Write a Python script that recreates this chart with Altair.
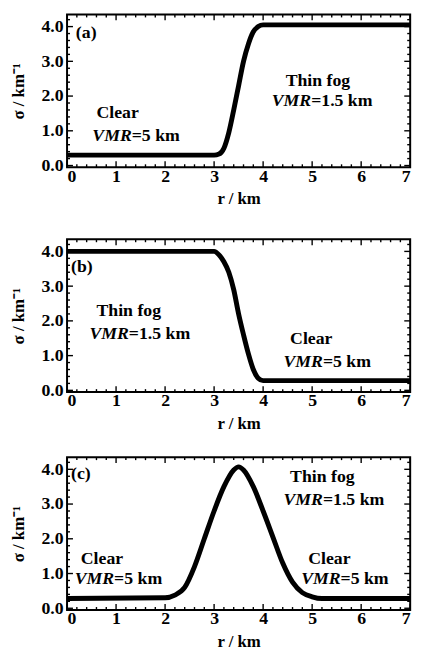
import altair as alt
import pandas as pd

# ---- data ----
r_a = [0, 3.0, 3.1, 3.2, 3.3, 3.4, 3.5, 3.6, 3.7, 3.8, 3.9, 4.0, 7]
s_a = [0.3, 0.3, 0.33, 0.5, 0.95, 1.6, 2.3, 3.0, 3.5, 3.85, 4.0, 4.05, 4.05]

r_b = [0, 3.0, 3.1, 3.2, 3.3, 3.4, 3.5, 3.6, 3.7, 3.8, 3.9, 4.0, 7]
s_b = [4.0, 4.0, 3.9, 3.7, 3.4, 2.9, 2.2, 1.6, 1.05, 0.6, 0.35, 0.28, 0.28]

r_c = [0, 2.0, 2.2, 2.4, 2.6, 2.8, 3.0, 3.2, 3.4, 3.5, 3.6, 3.8, 4.0, 4.2, 4.4, 4.6, 4.8, 5.0, 5.2, 7]
s_c = [0.28, 0.3, 0.38, 0.6, 1.2, 2.0, 2.8, 3.5, 3.98, 4.07, 3.98, 3.5, 2.8, 2.05, 1.3, 0.75, 0.45, 0.33, 0.28, 0.28]

x_ticks = [0, 1, 2, 3, 4, 5, 6, 7]
y_ticks = [0, 1, 2, 3, 4]
x_minor = [round(i * 0.2, 1) for i in range(36) if i % 5 != 0]
y_minor = [round(i * 0.2, 1) for i in range(22) if i % 5 != 0]

# annotations: (panel label), plain lines, and "VMR=..." lines split in italic + plain
labels = {"a": ("(a)", 0.18, 3.8), "b": ("(b)", 0.08, 3.55), "c": ("(c)", 0.08, 3.86)}
plain_a = [("Clear", 0.6, 1.5), ("Thin fog", 4.46, 2.44)]
vmr_a = [(1.32, 0.85, "=5 km"), (4.98, 1.85, "=1.5 km")]
plain_b = [("Thin fog", 0.6, 2.27), ("Clear", 4.55, 1.48)]
vmr_b = [(1.26, 1.62, "=1.5 km"), (5.22, 0.8, "=5 km")]
plain_c = [("Thin fog", 4.55, 3.77), ("Clear", 0.28, 1.43), ("Clear", 4.92, 1.43)]
vmr_c = [(5.22, 3.11, "=1.5 km"), (0.96, 0.83, "=5 km"), (5.58, 0.83, "=5 km")]

W, H = 348, 155
FONT = "Liberation Serif"
FS = 18

xscale = alt.Scale(domain=[0, 7], nice=False, zero=False)
yscale = alt.Scale(domain=[-0.05, 4.35], nice=False, zero=False)
xaxis = alt.Axis(values=x_ticks, format="d", title="r / km", ticks=False, tickSize=0, domain=False,
                 grid=False, labelPadding=0, titlePadding=6,
                 labelFont=FONT, labelFontSize=FS, labelFontWeight="bold", labelColor="black",
                 titleFont=FONT, titleFontSize=17, titleFontWeight="bold", titleColor="black")
yaxis = alt.Axis(values=y_ticks, format=".1f", title="σ / km⁻¹", ticks=False, tickSize=0, domain=False,
                 grid=False, labelPadding=4, titlePadding=14,
                 labelFont=FONT, labelFontSize=FS, labelFontWeight="bold", labelColor="black",
                 titleFont=FONT, titleFontSize=17, titleFontWeight="bold", titleColor="black")


def X(f):
    return alt.X(f, scale=xscale, axis=xaxis)


def Y(f):
    return alt.Y(f, scale=yscale, axis=yaxis)


def tick_layer(vals, ch, length):
    df = pd.DataFrame({"v": vals})
    base = alt.Chart(df).mark_rule(color="black", strokeWidth=1.4)
    if ch == "x":
        enc_b = dict(x=X("v:Q"), y=alt.value(H), y2=alt.value(H - length))
        enc_t = dict(x=X("v:Q"), y=alt.value(0), y2=alt.value(length))
    else:
        enc_b = dict(y=Y("v:Q"), x=alt.value(0), x2=alt.value(length))
        enc_t = dict(y=Y("v:Q"), x=alt.value(W), x2=alt.value(W - length))
    return [base.encode(**enc_b), base.encode(**enc_t)]


def panel(r, s, lab, plain, vmr):
    df = pd.DataFrame({"r": r, "s": s})
    line = alt.Chart(df).mark_line(color="black", strokeWidth=5, interpolate="monotone").encode(
        x=X("r:Q"), y=Y("s:Q"))
    layers = [line]
    layers += tick_layer(x_ticks, "x", 6) + tick_layer(x_minor, "x", 3)
    layers += tick_layer(y_ticks, "y", 6) + tick_layer(y_minor, "y", 3)

    txt_kw = dict(font=FONT, fontSize=FS, fontWeight="bold", color="black", baseline="middle")
    lab_df = pd.DataFrame({"t": [lab[0]], "x": [lab[1]], "y": [lab[2]]})
    layers.append(alt.Chart(lab_df).mark_text(align="left", **txt_kw).encode(
        x=X("x:Q"), y=Y("y:Q"), text="t:N"))
    p_df = pd.DataFrame({"t": [p[0] for p in plain], "x": [p[1] for p in plain], "y": [p[2] for p in plain]})
    layers.append(alt.Chart(p_df).mark_text(align="left", **txt_kw).encode(
        x=X("x:Q"), y=Y("y:Q"), text="t:N"))
    v_df = pd.DataFrame({"x": [v[0] for v in vmr], "y": [v[1] for v in vmr],
                         "t": [v[2] for v in vmr], "i": ["VMR"] * len(vmr)})
    layers.append(alt.Chart(v_df).mark_text(align="right", fontStyle="italic", **txt_kw).encode(
        x=X("x:Q"), y=Y("y:Q"), text="i:N"))
    layers.append(alt.Chart(v_df).mark_text(align="left", **txt_kw).encode(
        x=X("x:Q"), y=Y("y:Q"), text="t:N"))
    return alt.layer(*layers).properties(width=W, height=H)


top_two = alt.vconcat(
    panel(r_a, s_a, labels["a"], plain_a, vmr_a),
    panel(r_b, s_b, labels["b"], plain_b, vmr_b),
    spacing=30,
)
chart = alt.vconcat(
    top_two,
    panel(r_c, s_c, labels["c"], plain_c, vmr_c),
    spacing=23,
).properties(
    padding={"left": 8, "top": 8, "right": 2, "bottom": 0},
    background="white",
).configure(
    font=FONT
).configure_view(
    stroke="black", strokeWidth=2
)

chart.save("out.html", embed_options={"renderer": "svg", "actions": False})
